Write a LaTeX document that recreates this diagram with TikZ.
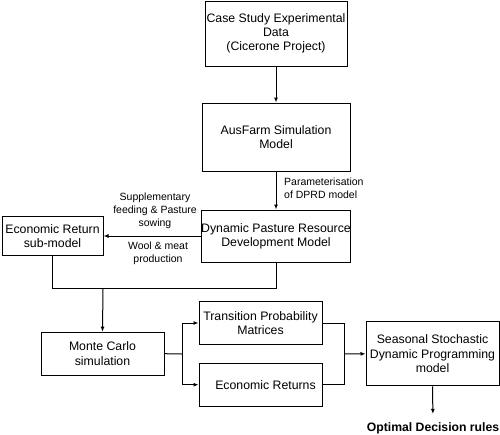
\documentclass[tikz,border=0pt]{standalone}
\usepackage{fontspec}
\setmainfont{Liberation Sans}
\usetikzlibrary{arrows.meta}
\begin{document}
\begin{tikzpicture}[x=1pt,y=-1pt,
  box/.style={draw,line width=1pt,rectangle,align=center,inner sep=0pt,
    font=\fontsize{12.3}{14.3}\selectfont},
  lbl/.style={align=center,inner sep=0pt,font=\fontsize{10.5}{13.2}\selectfont},
  con/.style={line width=1pt},
  arr/.style={line width=1pt,-{Latex[length=5pt,width=4pt]}}]
\useasboundingbox (0,0) rectangle (500,434);
\node[box,minimum width=142pt,minimum height=65pt] (B1) at (276,33.5)
  {Case Study Experimental\\Data\\(Cicerone Project)};
\node[box,minimum width=148pt,minimum height=68pt] (B2) at (276,137)
  {AusFarm Simulation\\Model};
\node[box,minimum width=148pt,minimum height=52pt] (B3) at (276,236)
  {Dynamic Pasture Resource\\Development Model};
\node[box,minimum width=101pt,minimum height=39pt] (B4) at (52.5,236)
  {Economic Return\\sub-model};
\node[box,minimum width=123pt,minimum height=43pt] (MC) at (102.5,353.7)
  {Monte Carlo\\simulation};
\node[box,minimum width=123pt,minimum height=42.6pt] (TP) at (260.5,323)
  {Transition Probability\\Matrices};
\node[box,minimum width=123pt,minimum height=42.7pt] (ER) at (260.5,384.7)
  {\hspace*{10pt}Economic Returns};
\node[box,minimum width=133pt,minimum height=64pt] (SS) at (432.5,353.8)
  {Seasonal Stochastic\\Dynamic Programming\\model};
\node[inner sep=0pt,anchor=base,font=\bfseries\fontsize{12.2}{14}\selectfont] (opt) at (433,431)
  {Optimal Decision rules};
\node[lbl,anchor=west,align=left] (lp) at (284,188.5) {Parameterisation\\of DPRD model};
\node[lbl] (ls) at (155,211) {Supplementary\\feeding \& Pasture\\sowing};
\node[lbl] (lw) at (158,253.5) {Wool \& meat\\production};
\coordinate (j3) at (103,288);
\coordinate (j1) at (182,354);
\coordinate (j2) at (344,354);
\draw[arr] (B1.south) -- (B2.north);
\draw[arr] (B2.south) -- (B3.north);
\draw[arr] (B3.west) -- (B4.east);
\draw[con] (B4.south) |- (j3);
\draw[con] (B3.south) |- (j3);
\draw[arr] (j3) -- (MC.north);
\draw[con] (MC.east) -- (j1);
\draw[arr] (j1) |- (TP.west);
\draw[arr] (j1) |- (ER.west);
\draw[con] (TP.east) -| (j2);
\draw[con] (ER.east) -| (j2);
\draw[arr] (j2) -- (SS.west);
\draw[arr,shorten >=8pt] (SS.south) -- (opt.north);
\end{tikzpicture}
\end{document}
